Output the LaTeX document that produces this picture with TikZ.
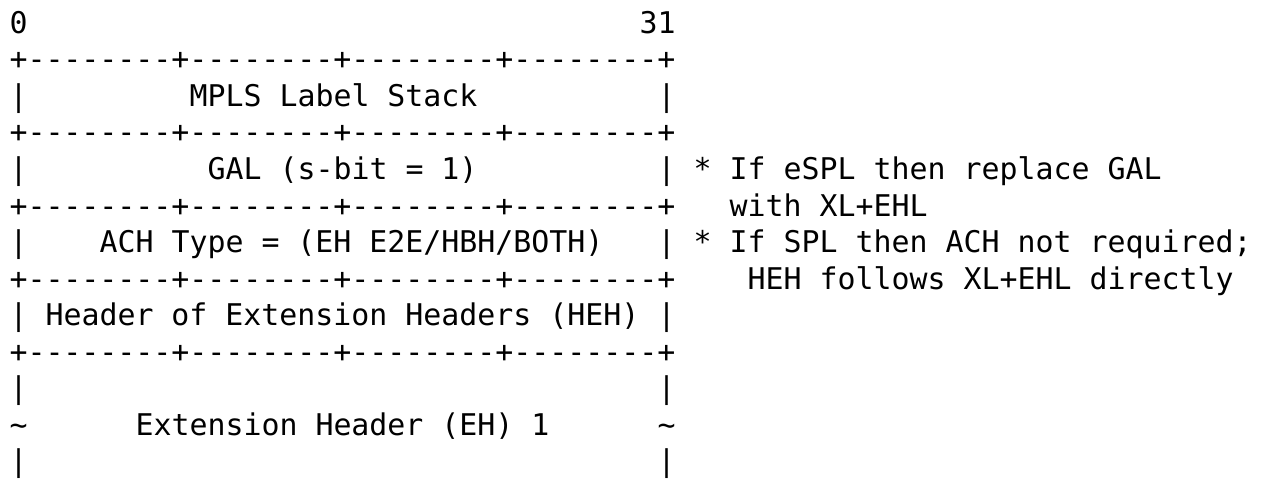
\documentclass[tikz,border=0pt]{standalone}
\usepackage{fontspec}
\setmonofont{DejaVu Sans Mono}
\begin{document}
\begin{tikzpicture}[x=1pt,y=1pt,
  txt/.style={font=\ttfamily\fontsize{29.9}{36.5}\selectfont, inner sep=0pt, anchor=base west, text=black}]
\useasboundingbox (0,0) rectangle (1266,-489);
\def\X#1{9.3+18*#1}
\def\Y#1{-33.5-36.5*#1}
% row 0: bit numbers
\node[txt] (bit0)  at ({\X{0}},{\Y{0}}) {0};
\node[txt] (bit31) at ({\X{35}},{\Y{0}}) {31};
% separator rows
\foreach \r in {1,3,5,7,9}{
  \node[txt] (sep\r) at ({\X{0}},{\Y{\r}}) {+--------+--------+--------+--------+};
}
% row 2
\node[txt] (l2) at ({\X{0}},{\Y{2}}) {|};
\node[txt] (mpls) at ({\X{10}},{\Y{2}}) {MPLS Label Stack};
\node[txt] (r2) at ({\X{36}},{\Y{2}}) {|};
% row 4
\node[txt] (l4) at ({\X{0}},{\Y{4}}) {|};
\node[txt] (gal) at ({\X{11}},{\Y{4}}) {GAL (s-bit = 1)};
\node[txt] (r4) at ({\X{36}},{\Y{4}}) {|};
\node[txt] (note1) at ({\X{38}},{\Y{4}}) {* If eSPL then replace GAL};
\node[txt] (note1b) at ({\X{40}},{\Y{5}}) {with XL+EHL};
% row 6
\node[txt] (l6) at ({\X{0}},{\Y{6}}) {|};
\node[txt] (ach) at ({\X{5}},{\Y{6}}) {ACH Type = (EH E2E/HBH/BOTH)};
\node[txt] (r6) at ({\X{36}},{\Y{6}}) {|};
\node[txt] (note2) at ({\X{38}},{\Y{6}}) {* If SPL then ACH not required;};
\node[txt] (note2b) at ({\X{41}},{\Y{7}}) {HEH follows XL+EHL directly};
% row 8
\node[txt] (l8) at ({\X{0}},{\Y{8}}) {|};
\node[txt] (heh) at ({\X{2}},{\Y{8}}) {Header of Extension Headers (HEH)};
\node[txt] (r8) at ({\X{36}},{\Y{8}}) {|};
% rows 10-12
\node[txt] (l10) at ({\X{0}},{\Y{10}}) {|};
\node[txt] (r10) at ({\X{36}},{\Y{10}}) {|};
\node[txt] (l11) at ({\X{0}},{\Y{11}}) {\textasciitilde};
\node[txt] (eh1) at ({\X{7}},{\Y{11}}) {Extension Header (EH) 1};
\node[txt] (r11) at ({\X{36}},{\Y{11}}) {\textasciitilde};
\node[txt] (l12) at ({\X{0}},{\Y{12}}) {|};
\node[txt] (r12) at ({\X{36}},{\Y{12}}) {|};
\end{tikzpicture}
\end{document}
